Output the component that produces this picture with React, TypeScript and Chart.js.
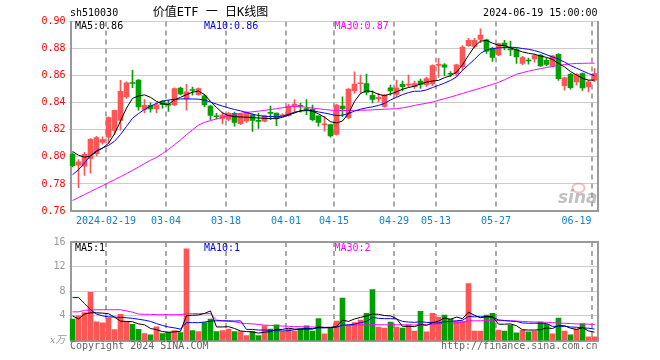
import React, { useEffect, useRef } from 'react';
import { Chart, registerables } from 'chart.js';

Chart.register(...registerables);

// ---------- DATA ----------
const categories = [
  '2024-02-01','2024-02-02','2024-02-05','2024-02-06','2024-02-07','2024-02-08',
  '2024-02-19','2024-02-20','2024-02-21','2024-02-22','2024-02-23',
  '2024-02-26','2024-02-27','2024-02-28','2024-02-29','2024-03-01',
  '2024-03-04','2024-03-05','2024-03-06','2024-03-07','2024-03-08',
  '2024-03-11','2024-03-12','2024-03-13','2024-03-14','2024-03-15',
  '2024-03-18','2024-03-19','2024-03-20','2024-03-21','2024-03-22',
  '2024-03-25','2024-03-26','2024-03-27','2024-03-28','2024-03-29',
  '2024-04-01','2024-04-02','2024-04-03',
  '2024-04-08','2024-04-09','2024-04-10','2024-04-11','2024-04-12',
  '2024-04-15','2024-04-16','2024-04-17','2024-04-18','2024-04-19',
  '2024-04-22','2024-04-23','2024-04-24','2024-04-25','2024-04-26',
  '2024-04-29','2024-04-30',
  '2024-05-06','2024-05-07','2024-05-08','2024-05-09','2024-05-10',
  '2024-05-13','2024-05-14','2024-05-15','2024-05-16','2024-05-17',
  '2024-05-20','2024-05-21','2024-05-22','2024-05-23','2024-05-24',
  '2024-05-27','2024-05-28','2024-05-29','2024-05-30','2024-05-31',
  '2024-06-03','2024-06-04','2024-06-05','2024-06-06','2024-06-07',
  '2024-06-11','2024-06-12','2024-06-13','2024-06-14',
  '2024-06-17','2024-06-18','2024-06-19',
];

const opens = [
  0.8018,0.7938,0.7931,0.7987,0.8024,0.8106,
  0.8145,0.8196,0.8270,0.8443,0.8548,
  0.8567,0.8350,0.8380,0.8355,0.8410,
  0.8390,0.8383,0.8508,0.8428,0.8495,
  0.8460,0.8450,0.8376,0.8300,0.8284,
  0.8277,0.8321,0.8245,0.8263,0.8310,
  0.8266,0.8264,0.8325,0.8323,0.8303,
  0.8304,0.8376,0.8378,
  0.8355,0.8352,0.8304,0.8236,0.8238,
  0.8166,0.8376,0.8290,0.8489,0.8540,
  0.8542,0.8455,0.8428,0.8372,0.8510,
  0.8462,0.8535,
  0.8530,0.8518,0.8560,0.8532,0.8538,
  0.8676,0.8679,0.8615,0.8612,0.8665,
  0.8822,0.8815,0.8867,0.8865,0.8802,
  0.8753,0.8840,0.8793,0.8792,0.8690,
  0.8712,0.8723,0.8752,0.8714,0.8672,
  0.8758,0.8525,0.8609,0.8554,
  0.8616,0.8517,0.8566,
];

const highs = [
  0.8030,0.7980,0.8034,0.8135,0.8152,0.8148,
  0.8295,0.8346,0.8566,0.8555,0.8640,
  0.8570,0.8423,0.8400,0.8400,0.8418,
  0.8418,0.8510,0.8515,0.8535,0.8515,
  0.8510,0.8460,0.8383,0.8322,0.8330,
  0.8330,0.8330,0.8320,0.8335,0.8318,
  0.8323,0.8308,0.8376,0.8323,0.8320,
  0.8390,0.8424,0.8395,
  0.8424,0.8382,0.8304,0.8300,0.8238,
  0.8390,0.8444,0.8505,0.8628,0.8604,
  0.8611,0.8488,0.8470,0.8462,0.8530,
  0.8567,0.8560,
  0.8604,0.8560,0.8574,0.8590,0.8680,
  0.8728,0.8690,0.8630,0.8685,0.8822,
  0.8875,0.8875,0.8945,0.8870,0.8810,
  0.8840,0.8860,0.8856,0.8802,0.8742,
  0.8730,0.8760,0.8755,0.8730,0.8748,
  0.8763,0.8590,0.8618,0.8616,
  0.8620,0.8565,0.8653,
];

const lows = [
  0.7925,0.7773,0.7863,0.7880,0.8007,0.8093,
  0.8098,0.8165,0.8197,0.8432,0.8512,
  0.8344,0.8325,0.8330,0.8325,0.8360,
  0.8335,0.8378,0.8458,0.8345,0.8455,
  0.8455,0.8370,0.8275,0.8280,0.8243,
  0.8265,0.8226,0.8238,0.8255,0.8188,
  0.8210,0.8258,0.8275,0.8231,0.8298,
  0.8300,0.8323,0.8330,
  0.8311,0.8265,0.8227,0.8190,0.8145,
  0.8160,0.8297,0.8280,0.8469,0.8469,
  0.8457,0.8398,0.8405,0.8365,0.8455,
  0.8445,0.8488,
  0.8514,0.8505,0.8505,0.8520,0.8525,
  0.8588,0.8600,0.8593,0.8595,0.8640,
  0.8815,0.8805,0.8843,0.8765,0.8705,
  0.8748,0.8790,0.8748,0.8690,0.8680,
  0.8685,0.8700,0.8668,0.8672,0.8668,
  0.8565,0.8493,0.8500,0.8530,
  0.8490,0.8480,0.8555,
];

const closes = [
  0.7935,0.7963,0.8018,0.8129,0.8142,0.8128,
  0.8290,0.8344,0.8485,0.8547,0.8542,
  0.8369,0.8380,0.8355,0.8385,0.8385,
  0.8382,0.8504,0.8465,0.8480,0.8490,
  0.8504,0.8383,0.8306,0.8296,0.8309,
  0.8321,0.8255,0.8316,0.8326,0.8270,
  0.8262,0.8304,0.8321,0.8287,0.8308,
  0.8376,0.8390,0.8374,
  0.8350,0.8275,0.8255,0.8240,0.8154,
  0.8383,0.8354,0.8500,0.8538,0.8544,
  0.8476,0.8424,0.8440,0.8457,0.8488,
  0.8510,0.8518,
  0.8537,0.8542,0.8535,0.8578,0.8674,
  0.8681,0.8662,0.8610,0.8679,0.8811,
  0.8860,0.8860,0.8899,0.8780,0.8735,
  0.8836,0.8818,0.8790,0.8738,0.8733,
  0.8708,0.8749,0.8671,0.8682,0.8746,
  0.8578,0.8584,0.8512,0.8609,
  0.8510,0.8554,0.8616,
];

const ma5 = [
  0.8040,0.8012,0.7998,0.8005,0.8040,0.8064,
  0.8100,0.8170,0.8265,0.8360,0.8432,
  0.8450,0.8458,0.8440,0.8410,0.8392,
  0.8388,0.8420,0.8440,0.8460,0.8478,
  0.8486,0.8460,0.8410,0.8365,0.8325,
  0.8305,0.8297,0.8295,0.8293,0.8290,
  0.8287,0.8285,0.8283,0.8282,0.8292,
  0.8308,0.8325,0.8340,
  0.8347,0.8338,0.8318,0.8293,0.8260,
  0.8250,0.8265,0.8320,0.8410,0.8468,
  0.8488,0.8482,0.8462,0.8452,0.8465,
  0.8480,0.8500,
  0.8512,0.8522,0.8538,0.8552,0.8560,
  0.8565,0.8585,0.8600,0.8625,0.8680,
  0.8750,0.8815,0.8855,0.8860,0.8840,
  0.8825,0.8822,0.8805,0.8790,0.8775,
  0.8765,0.8758,0.8745,0.8735,0.8720,
  0.8690,0.8665,0.8630,0.8605,
  0.8580,0.8567,0.8567,
];

const ma10 = [
  0.7868,0.7905,0.7955,0.8010,0.8045,0.8065,
  0.8085,0.8115,0.8165,0.8225,0.8285,
  0.8320,0.8350,0.8375,0.8395,0.8412,
  0.8420,0.8425,0.8428,0.8428,0.8428,
  0.8426,0.8420,0.8405,0.8390,0.8375,
  0.8362,0.8350,0.8340,0.8328,0.8315,
  0.8305,0.8300,0.8298,0.8296,0.8300,
  0.8315,0.8330,0.8338,
  0.8342,0.8340,0.8332,0.8324,0.8315,
  0.8305,0.8308,0.8320,0.8338,0.8352,
  0.8362,0.8370,0.8380,0.8395,0.8420,
  0.8440,0.8460,
  0.8475,0.8485,0.8485,0.8495,0.8512,
  0.8528,0.8545,0.8565,0.8590,0.8640,
  0.8680,0.8720,0.8765,0.8790,0.8800,
  0.8805,0.8808,0.8810,0.8808,0.8800,
  0.8795,0.8785,0.8772,0.8755,0.8738,
  0.8722,0.8700,0.8675,0.8655,
  0.8635,0.8615,0.8600,
];

const ma30 = [
  0.7677,0.7699,0.7721,0.7743,0.7765,0.7787,
  0.7809,0.7831,0.7853,0.7876,0.7900,
  0.7925,0.7950,0.7975,0.7995,0.8025,
  0.8055,0.8090,0.8125,0.8165,0.8200,
  0.8235,0.8255,0.8268,0.8280,0.8292,
  0.8303,0.8313,0.8322,0.8328,0.8333,
  0.8338,0.8343,0.8350,0.8356,0.8363,
  0.8370,0.8372,0.8370,
  0.8366,0.8360,0.8355,0.8350,0.8345,
  0.8343,0.8342,0.8343,0.8343,0.8344,
  0.8345,0.8347,0.8350,0.8352,0.8354,
  0.8356,0.8362,
  0.8370,0.8380,0.8388,0.8396,0.8405,
  0.8418,0.8430,0.8442,0.8455,0.8468,
  0.8482,0.8495,0.8508,0.8522,0.8536,
  0.8550,0.8570,0.8590,0.8610,0.8622,
  0.8633,0.8643,0.8652,0.8660,0.8668,
  0.8675,0.8682,0.8687,0.8690,
  0.8691,0.8692,0.8692,
];

const volumes = [
  3.47,4.00,4.53,7.84,3.04,2.88,
  3.68,1.76,4.27,3.04,2.61,
  1.81,1.12,0.91,2.24,1.12,
  1.33,1.60,1.28,14.88,1.60,
  1.44,2.93,3.47,1.44,1.60,
  1.87,1.44,1.44,0.80,1.44,
  0.80,2.40,1.87,2.56,1.44,
  1.87,1.55,1.87,
  2.40,1.55,3.57,1.07,1.97,
  3.15,6.88,2.50,2.93,3.31,
  4.43,8.27,2.19,2.03,2.99,
  2.19,2.03,
  2.50,1.55,4.75,1.39,4.43,
  3.79,4.11,3.47,3.15,3.15,
  9.23,1.55,1.55,4.11,4.43,
  1.71,1.55,2.50,1.23,1.71,
  1.39,1.55,2.99,2.67,1.07,
  3.63,1.55,0.91,1.87,
  2.72,0.59,0.59,
];

const volMa5 = [
  4.0,3.5,4.3,4.5,4.5,4.45,
  4.35,3.8,3.15,3.1,3.05,
  2.7,2.55,1.95,1.75,1.45,
  1.35,1.4,1.5,4.05,4.1,
  4.15,4.4,4.8,2.2,2.2,
  2.25,1.95,1.55,1.45,1.4,
  1.2,1.35,1.45,1.8,1.8,
  2.0,1.85,1.85,
  1.85,1.85,2.2,2.1,2.1,
  2.3,3.3,3.1,3.5,3.75,
  4.0,4.3,4.25,4.05,4.0,
  3.55,2.3,
  2.3,2.25,2.6,2.45,2.9,
  3.15,3.65,3.45,3.8,3.55,
  4.6,4.1,3.7,3.9,3.9,
  2.65,2.65,2.7,2.4,1.75,
  1.7,1.7,1.75,2.05,1.95,
  2.4,2.4,2.0,1.8,
  2.1,1.55,1.35,
];

const volMa10 = [
  7.0,7.0,6.0,5.0,4.3,4.0,
  3.85,3.8,3.75,3.7,3.6,
  3.45,3.3,3.1,2.75,2.45,
  2.2,2.05,1.85,2.9,2.9,
  2.9,3.0,3.15,3.2,3.2,
  3.2,3.15,3.2,1.8,1.8,
  1.7,1.7,1.65,1.6,1.55,
  1.6,1.75,1.9,
  1.95,1.95,2.05,2.05,2.1,
  2.15,2.5,2.55,2.65,2.9,
  3.1,3.75,3.6,3.55,3.55,
  3.5,3.1,
  3.0,2.95,3.05,2.95,2.9,
  2.85,3.05,3.1,3.2,3.3,
  3.9,3.85,3.85,3.85,3.75,
  3.35,3.25,3.15,3.1,2.85,
  2.8,2.8,2.8,2.75,2.3,
  2.3,2.3,2.2,2.15,
  2.05,2.0,1.86,
];

const volMa30 = [
  4.65,4.65,4.9,4.95,5.0,5.0,
  5.0,5.0,5.0,4.8,4.6,
  4.3,4.25,4.25,4.2,4.2,
  4.2,4.2,4.2,4.35,4.35,
  4.35,4.35,4.35,3.3,3.2,
  3.1,3.05,2.85,2.75,2.7,
  2.6,2.5,2.45,2.4,2.35,
  2.3,2.25,2.25,
  2.2,2.2,2.15,2.15,2.15,
  2.2,2.4,2.45,2.5,2.55,
  2.5,2.6,2.55,2.55,2.55,
  2.55,2.55,
  2.55,2.5,2.6,2.55,2.65,
  2.7,2.75,2.8,2.85,2.9,
  3.2,3.2,3.2,3.25,3.3,
  3.25,3.2,3.2,3.15,3.1,
  3.05,3.0,3.0,2.95,2.9,
  2.85,2.8,2.75,2.7,
  2.7,2.65,2.6,
];

const tickDates = ['2024-02-19','2024-03-04','2024-03-18','2024-04-01','2024-04-15','2024-04-29','2024-05-13','2024-05-27','2024-06-19'];
const tickLabels = ['2024-02-19','03-04','03-18','04-01','04-15','04-29','05-13','05-27','06-19'];
const priceGridValues = [0.78, 0.80, 0.82, 0.84, 0.86, 0.88, 0.90];
const volGridValues = [4, 8, 12];

const symbol = 'sh510030';
const title = '价值ETF 一 日K线图';
const timestamp = '2024-06-19 15:00:00';

// ---------- STYLE ----------
const UP = '#ff5555';
const DOWN = '#00a000';
const MA5C = '#000000';
const MA10C = '#0000ff';
const MA30C = '#ff00ff';
const FRAME = '#999999';
const GRID = '#999999';
const DASH = '#aaaaaa';
const MONO = '"DejaVu Sans Mono", "Noto Sans CJK SC", monospace';

const W = 660;
const PRICE_H = 232;
const VOL_H = 128;
const AXIS_W = 69.5;

const gridIdx = tickDates.map((d) => categories.indexOf(d));
const candleColors = closes.map((c, i) => (c >= opens[i] ? UP : DOWN));

function drawGrid(chart: any, hValues: number[]) {
  const { ctx, chartArea: a, scales } = chart;
  const x = scales.x;
  const y = scales.y;
  const step = (x.right - x.left) / categories.length;
  ctx.save();
  ctx.strokeStyle = GRID;
  ctx.lineWidth = 1;
  ctx.setLineDash([1, 1]);
  hValues.forEach((v) => {
    const py = Math.round(y.getPixelForValue(v) - 0.5) + 0.5;
    ctx.beginPath();
    ctx.moveTo(a.left, py);
    ctx.lineTo(a.right, py);
    ctx.stroke();
  });
  ctx.strokeStyle = DASH;
  ctx.lineWidth = 2;
  ctx.setLineDash([5, 4]);
  gridIdx.forEach((idx) => {
    const gx = Math.round(x.getPixelForValue(idx) - step / 2);
    ctx.beginPath();
    ctx.moveTo(gx, a.top);
    ctx.lineTo(gx, a.bottom);
    ctx.stroke();
  });
  ctx.restore();
}

function drawFrame(chart: any, withTop: boolean) {
  const { ctx, chartArea: a } = chart;
  ctx.save();
  ctx.fillStyle = FRAME;
  const l = Math.round(a.left);
  const r = Math.round(a.right) - 1;
  const t = Math.round(a.top);
  const b = Math.round(a.bottom) - 1;
  ctx.fillRect(l, t - 1, 2, b - t + 3);
  ctx.fillRect(r, t - 1, 2, b - t + 3);
  ctx.fillRect(l, b, r - l + 2, 2);
  if (withTop) ctx.fillRect(l, t - 1, r - l + 2, 2);
  ctx.restore();
}

const lineDs = (label: string, data: number[], color: string) => ({
  type: 'line' as const,
  label,
  data,
  borderColor: color,
  backgroundColor: color,
  borderWidth: 1,
  pointRadius: 0,
  tension: 0,
  fill: false,
  order: 0,
});

export default function App() {
  const priceRef = useRef<HTMLCanvasElement>(null);
  const volRef = useRef<HTMLCanvasElement>(null);

  useEffect(() => {
    const pricePlugin = {
      id: 'priceDecor',
      beforeDatasetsDraw(chart: any) {
        const { ctx, chartArea: a } = chart;
        drawGrid(chart, priceGridValues);
        ctx.save();
        ctx.strokeStyle = 'rgba(225,120,120,0.45)';
        ctx.lineWidth = 2;
        ctx.beginPath();
        ctx.ellipse(a.right - 19, a.bottom - 23, 6, 4.5, 0, 0, Math.PI * 2);
        ctx.stroke();
        ctx.font = 'italic bold 17px "DejaVu Sans"';
        ctx.fillStyle = 'rgba(150,150,150,0.6)';
        ctx.textAlign = 'right';
        ctx.textBaseline = 'alphabetic';
        ctx.fillText('sina', a.right, a.bottom - 8);
        ctx.restore();
        drawFrame(chart, false);
      },
      afterDraw(chart: any) {
        const { ctx, chartArea: a, scales } = chart;
        const x = scales.x;
        const step = (x.right - x.left) / categories.length;
        ctx.save();
        ctx.textBaseline = 'middle';
        ctx.font = '10px ' + MONO;
        ctx.fillStyle = '#000';
        ctx.textAlign = 'left';
        ctx.fillText(symbol, 70, 13);
        ctx.textAlign = 'right';
        ctx.fillText(timestamp, 597.5, 13);
        ctx.font = '12px ' + MONO;
        ctx.textAlign = 'center';
        ctx.fillText(title, 210.5, 12.5);
        ctx.font = '10px ' + MONO;
        ctx.textAlign = 'left';
        ctx.fillStyle = MA5C;
        ctx.fillText('MA5:' + ma5[ma5.length - 1].toFixed(2), 75, 26);
        ctx.fillStyle = MA10C;
        ctx.fillText('MA10:' + ma10[ma10.length - 1].toFixed(2), 204, 26);
        ctx.fillStyle = MA30C;
        ctx.fillText('MA30:' + ma30[ma30.length - 1].toFixed(2), 334.5, 26);
        ctx.fillStyle = '#0a84d8';
        tickDates.forEach((d, k) => {
          const idx = categories.indexOf(d);
          const gx = x.getPixelForValue(idx) - step / 2;
          const label = tickLabels[k];
          const w = ctx.measureText(label).width;
          if (gx + w / 2 > a.right) {
            ctx.textAlign = 'right';
            ctx.fillText(label, gx, 221);
          } else {
            ctx.textAlign = 'center';
            ctx.fillText(label, gx + 0.5, 221);
          }
        });
        ctx.restore();
      },
    };

    const volPlugin = {
      id: 'volDecor',
      beforeDatasetsDraw(chart: any) {
        drawGrid(chart, volGridValues);
        drawFrame(chart, true);
      },
      afterDraw(chart: any) {
        const { ctx, chartArea: a } = chart;
        ctx.save();
        ctx.textBaseline = 'middle';
        ctx.font = '10px ' + MONO;
        ctx.textAlign = 'left';
        ctx.fillStyle = MA5C;
        ctx.fillText('MA5:' + Math.floor(volMa5[volMa5.length - 1]), 75, a.top + 6.5);
        ctx.fillStyle = MA10C;
        ctx.fillText('MA10:' + Math.floor(volMa10[volMa10.length - 1]), 204, a.top + 6.5);
        ctx.fillStyle = MA30C;
        ctx.fillText('MA30:' + Math.floor(volMa30[volMa30.length - 1]), 334.5, a.top + 6.5);
        ctx.fillStyle = '#666';
        ctx.fillText('Copyright 2024 SINA.COM', 70, a.bottom + 5.5);
        ctx.textAlign = 'right';
        ctx.fillText('http://finance.sina.com.cn', 597.5, a.bottom + 5.5);
        ctx.restore();
      },
    };

    const xScale = (h: number) => ({
      type: 'category' as const,
      offset: true,
      grid: { display: false, offset: true, drawTicks: false },
      border: { display: false },
      ticks: { display: false, autoSkip: false },
      afterFit: (s: any) => {
        s.height = h;
      },
    });

    const priceChart = new Chart(priceRef.current as HTMLCanvasElement, {
      type: 'bar',
      data: {
        labels: categories,
        datasets: [
          lineDs('MA5', ma5, MA5C),
          lineDs('MA10', ma10, MA10C),
          lineDs('MA30', ma30, MA30C),
          {
            type: 'bar',
            label: 'body',
            data: opens.map((o, i) => [o, closes[i]]),
            backgroundColor: candleColors,
            borderWidth: 0,
            barThickness: 5,
            grouped: false,
            minBarLength: 1,
            order: 1,
          } as any,
          {
            type: 'bar',
            label: 'wick',
            data: lows.map((l, i) => [l, highs[i]]),
            backgroundColor: candleColors,
            borderWidth: 0,
            barThickness: 1,
            grouped: false,
            order: 2,
          } as any,
        ],
      },
      options: {
        responsive: false,
        animation: false,
        devicePixelRatio: 1,
        events: [],
        layout: { padding: { top: 21.5, right: 62.5, left: 0, bottom: 0 } },
        plugins: { legend: { display: false }, tooltip: { enabled: false } },
        scales: {
          x: xScale(21) as any,
          y: {
            min: 0.76,
            max: 0.9,
            ticks: {
              stepSize: 0.02,
              color: '#ff0000',
              font: { family: MONO, size: 10 },
              padding: 4,
              callback: (v: any) => Number(v).toFixed(2),
            },
            grid: { display: false, drawTicks: false },
            border: { display: false },
            afterFit: (s: any) => {
              s.width = AXIS_W;
            },
          },
        },
      },
      plugins: [pricePlugin],
    });

    const volChart = new Chart(volRef.current as HTMLCanvasElement, {
      type: 'bar',
      data: {
        labels: categories,
        datasets: [
          lineDs('MA5', volMa5, MA5C),
          lineDs('MA10', volMa10, MA10C),
          lineDs('MA30', volMa30, MA30C),
          {
            type: 'bar',
            label: 'volume',
            data: volumes,
            backgroundColor: candleColors,
            borderWidth: 0,
            barThickness: 5,
            grouped: false,
            order: 1,
          } as any,
        ],
      },
      options: {
        responsive: false,
        animation: false,
        devicePixelRatio: 1,
        events: [],
        layout: { padding: { top: 8.5, right: 62.5, left: 0, bottom: 0 } },
        plugins: { legend: { display: false }, tooltip: { enabled: false } },
        scales: {
          x: xScale(19.5) as any,
          y: {
            min: 0,
            max: 16,
            ticks: {
              stepSize: 4,
              color: '#999999',
              padding: 4,
              font: (c: any) =>
                c.index === 0
                  ? { family: '"DejaVu Serif", "Noto Sans CJK SC", serif', size: 10, style: 'italic' }
                  : { family: MONO, size: 10 },
              callback: (v: any) => (Number(v) === 0 ? 'x万' : String(v)),
            },
            grid: { display: false, drawTicks: false },
            border: { display: false },
            afterFit: (s: any) => {
              s.width = AXIS_W;
            },
          },
        },
      },
      plugins: [volPlugin],
    });

    return () => {
      priceChart.destroy();
      volChart.destroy();
    };
  }, []);

  return (
    <div style={{ position: 'absolute', left: 0, top: 0, width: W, height: PRICE_H + VOL_H, background: '#fff' }}>
      <canvas ref={priceRef} width={W} height={PRICE_H} style={{ position: 'absolute', left: 0, top: 0, display: 'block' }} />
      <canvas ref={volRef} width={W} height={VOL_H} style={{ position: 'absolute', left: 0, top: PRICE_H, display: 'block' }} />
    </div>
  );
}
